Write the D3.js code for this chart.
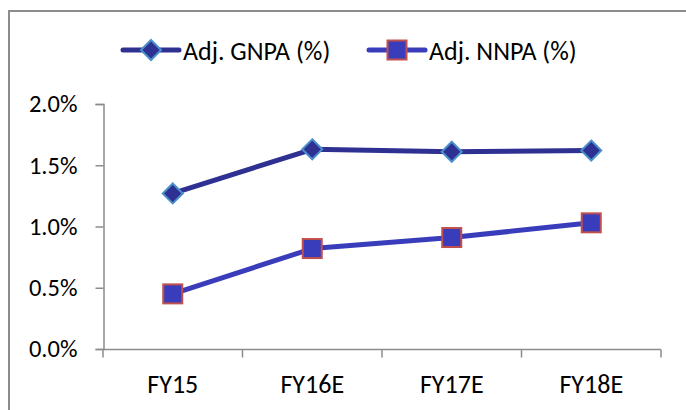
<!DOCTYPE html>
<html><head><meta charset="utf-8">
<script src="https://cdn.jsdelivr.net/npm/d3@7"></script>
<style>body{margin:0;background:#fff;}svg{display:block;font-family:Carlito,"Open Sans","Liberation Sans",sans-serif;}</style>
</head><body><svg id="c" width="686" height="410"></svg>
<script>
const categories = ["FY15","FY16E","FY17E","FY18E"];
const gnpa = [1.27, 1.63, 1.61, 1.62];
const nnpa = [0.45, 0.82, 0.91, 1.03];
const yTicks = [0, 0.5, 1.0, 1.5, 2.0];
const seriesNames = ["Adj. GNPA (%)", "Adj. NNPA (%)"];

const svg = d3.select("#c");
// outer border
svg.append("path").attr("d","M9,420 V11 H700").attr("fill","none").attr("stroke","#8c8c8c").attr("stroke-width",2);

const x = d3.scaleBand().domain(categories).range([103,661]);
const y = d3.scaleLinear().domain([0,2]).range([349,104]);

const yAxis = svg.append("g").attr("transform","translate(103.5,0)")
  .call(d3.axisLeft(y).tickValues(yTicks).tickFormat(d=>d.toFixed(1)+"%").tickSize(8).tickPadding(18));
const xAxis = svg.append("g").attr("transform","translate(0,349.5)")
  .call(d3.axisBottom(x).tickSize(0).tickPadding(25));
[yAxis,xAxis].forEach(a=>{
  a.attr("font-family",null);
  a.selectAll("path,line").attr("stroke","#8c8c8c").attr("stroke-width",1.5);
  a.selectAll("text").attr("fill","#000");
});
yAxis.selectAll("text").attr("font-size",24.5);
xAxis.selectAll("text").attr("font-size",26);
xAxis.select(".domain").remove();
xAxis.append("line").attr("x1",103).attr("x2",661).attr("stroke","#8c8c8c").attr("stroke-width",1.5);
// category boundary ticks
const bounds = categories.map(c=>x(c)).concat([x.range()[1]]);
xAxis.selectAll(".bt").data(bounds).enter().append("line")
  .attr("x1",d=>d).attr("x2",d=>d).attr("y1",0).attr("y2",8)
  .attr("stroke","#8c8c8c").attr("stroke-width",1.5);

const cx = c => x(c)+x.bandwidth()/2;
const line = d3.line().x((d,i)=>cx(categories[i])).y(d=>y(d));

const styles = [
  {data:gnpa, line:"#2E3192", fill:"#2E3192", stroke:"#4A8FCC", shape:"diamond"},
  {data:nnpa, line:"#3A3DBB", fill:"#3A3DBB", stroke:"#C0504D", shape:"square"}
];
function marker(g, s, px, py){
  if(s.shape==="diamond"){
    g.append("path").attr("d",`M${px},${py-10} L${px+10},${py} L${px},${py+10} L${px-10},${py} Z`)
      .attr("fill",s.fill).attr("stroke",s.stroke).attr("stroke-width",2);
  } else {
    g.append("rect").attr("x",px-9.5).attr("y",py-9.5).attr("width",19).attr("height",19)
      .attr("fill",s.fill).attr("stroke",s.stroke).attr("stroke-width",2);
  }
}
styles.forEach(s=>{
  svg.append("path").datum(s.data).attr("d",line).attr("fill","none")
    .attr("stroke",s.line).attr("stroke-width",5).attr("stroke-linejoin","round");
  const g = svg.append("g");
  s.data.forEach((v,i)=>marker(g,s,cx(categories[i]),y(v)));
});

// legend
const legX = [123, 369];
styles.forEach((s,i)=>{
  const g = svg.append("g");
  g.append("line").attr("x1",legX[i]).attr("x2",legX[i]+56).attr("y1",50).attr("y2",50)
    .attr("stroke",s.line).attr("stroke-width",5).attr("stroke-linecap","round");
  marker(g,s,legX[i]+28,50);
  g.append("text").attr("x",legX[i]+60).attr("y",51).attr("dy","0.35em")
    .attr("font-size",26).attr("fill","#000").text(seriesNames[i]);
});
</script></body></html>
